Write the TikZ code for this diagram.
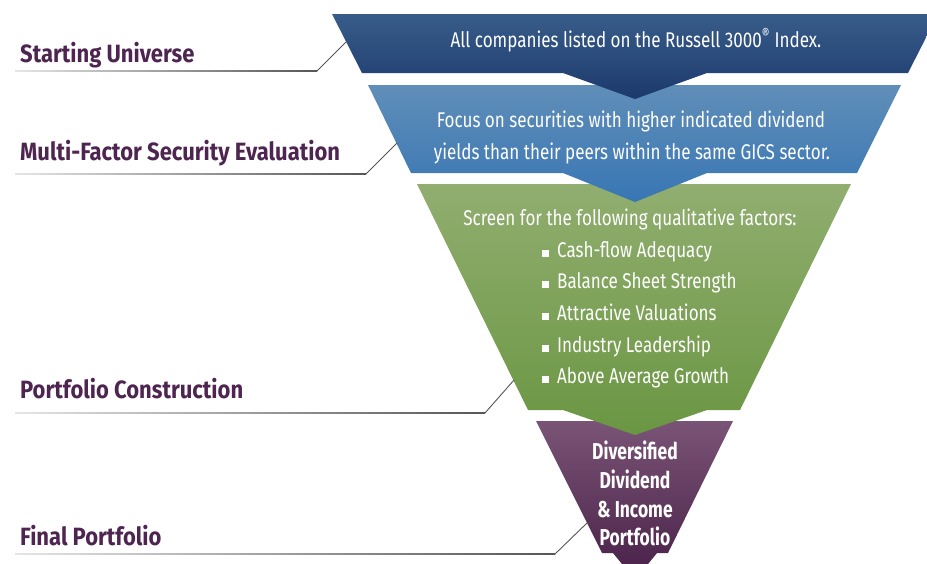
\documentclass[tikz,border=0pt]{standalone}
\usepackage{fontspec}
\setmainfont{Fira Sans}
\newfontfamily\labfont[FakeStretch=0.88]{Fira Sans}
\newfontfamily\boxfont[FakeStretch=0.80]{Fira Sans}
\newfontfamily\finfont[FakeStretch=0.76]{Fira Sans}
\definecolor{labpurple}{RGB}{78,36,80}
\definecolor{dbTop}{RGB}{56,92,138}
\definecolor{dbBot}{RGB}{28,58,108}
\definecolor{lbTop}{RGB}{96,142,184}
\definecolor{lbBot}{RGB}{56,118,180}
\definecolor{grTop}{RGB}{145,174,112}
\definecolor{grBot}{RGB}{106,150,66}
\definecolor{puTop}{RGB}{122,84,118}
\definecolor{puBot}{RGB}{72,32,72}
\definecolor{leadgray}{RGB}{85,85,90}
\begin{document}
\begin{tikzpicture}[x=1pt,y=-1pt,
  lab/.style={font=\labfont\bfseries\fontsize{25}{30}\selectfont, text=labpurple, anchor=base west, inner sep=0pt},
  boxtxt/.style={font=\boxfont\fontsize{21.3}{25}\selectfont, text=white, anchor=base, inner sep=0pt},
  bulletitem/.style={boxtxt, anchor=base west},
  fintxt/.style={font=\finfont\bfseries\fontsize{23}{28}\selectfont, text=white, anchor=base, inner sep=0pt},
  leader/.style={draw=leadgray, line width=0.9pt},
  underl/.style={left color=white!85!leadgray, right color=leadgray}
]
\useasboundingbox (0,0) rectangle (927,563);
\begin{scope}
\clip (0,0) rectangle (927,563);
% purple
\shade[top color=puTop, bottom color=puBot]
  (536,421) -- (733,421) -- (668,553) -- (657,553) -- (635,580) -- (613,553) -- (602,553) -- cycle;
% green
\shade[top color=grTop, bottom color=grBot]
  (417,184) -- (851,184) -- (740,410) -- (707,410) -- (635,435) -- (563,410) -- (528,410) -- cycle;
% light blue
\shade[top color=lbTop, bottom color=lbBot]
  (368,85) -- (901,85) -- (857,173) -- (707,173) -- (635,202) -- (563,173) -- (411,173) -- cycle;
% dark blue
\shade[top color=dbTop, bottom color=dbBot]
  (332,14) -- (938,14) -- (908,73) -- (707,73) -- (635,99) -- (563,73) -- (362,73) -- cycle;
\end{scope}

% texts in shapes
\node[boxtxt] (t1) at (636,47) {All companies listed on the Russell 3000\textsuperscript{®} Index.};
\node[boxtxt] (t2a) at (631,127) {Focus on securities with higher indicated dividend};
\node[boxtxt] (t2b) at (632,159) {yields than their peers within the same GICS sector.};
\node[boxtxt] (t3) at (630,225) {Screen for the following qualitative factors:};
\node[bulletitem] (b1) at (542,257) {\rule{7pt}{7pt}\hspace{8pt}Cash-flow Adequacy};
\node[bulletitem] (b2) at (542,288) {\rule{7pt}{7pt}\hspace{8pt}Balance Sheet Strength};
\node[bulletitem] (b3) at (542,320) {\rule{7pt}{7pt}\hspace{8pt}Attractive Valuations};
\node[bulletitem] (b4) at (542,352) {\rule{7pt}{7pt}\hspace{8pt}Industry Leadership};
\node[bulletitem] (b5) at (542,383) {\rule{7pt}{7pt}\hspace{8pt}Above Average Growth};
\node[fintxt] (f1) at (635,459) {Diversified};
\node[fintxt] (f2) at (635,488) {Dividend};
\node[fintxt] (f3) at (635,517) {\& Income};
\node[fintxt] (f4) at (635,545) {Portfolio};

% labels
\node[lab] (L1) at (20,62) {Starting Universe};
\node[lab] (L2) at (20,160) {Multi-Factor Security Evaluation};
\node[lab] (L3) at (20,398) {Portfolio Construction};
\node[lab] (L4) at (20,545) {Final Portfolio};

% leader lines
\coordinate (u1s) at (15,71); \coordinate (u1e) at (317,71); \coordinate (u1t) at (346,42);
\coordinate (u2s) at (15,174); \coordinate (u2e) at (366,174); \coordinate (u2t) at (397,143);
\coordinate (u3s) at (15,413); \coordinate (u3e) at (485,413); \coordinate (u3t) at (514,380);
\coordinate (u4s) at (15,554); \coordinate (u4e) at (555,554); \coordinate (u4t) at (587,523);
\shade[underl] (15,70.4) rectangle (317,71.6);
\shade[underl] (15,173.4) rectangle (366,174.6);
\shade[underl] (15,412.4) rectangle (485,413.6);
\shade[underl] (15,553.4) rectangle (555,554.6);
\draw[leader] (u1e) -- (u1t);
\draw[leader] (u2e) -- (u2t);
\draw[leader] (u3e) -- (u3t);
\draw[leader] (u4e) -- (u4t);
\end{tikzpicture}
\end{document}
